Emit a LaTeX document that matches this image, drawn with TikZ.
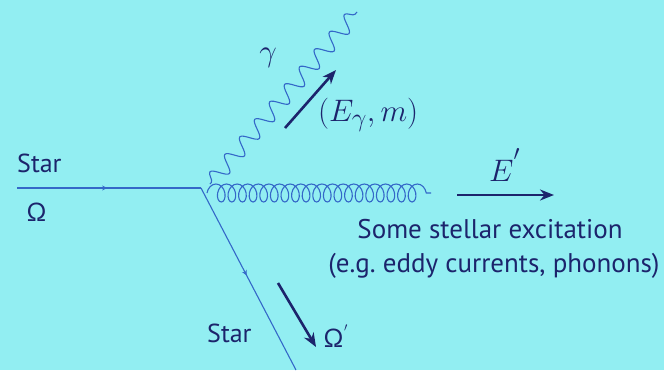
\documentclass[tikz,border=0pt]{standalone}
\usepackage{amsmath,amssymb}
\usepackage{graphicx}
\usepackage{fontspec}
\setsansfont{PT Sans}
\usepackage{tikz}
\usetikzlibrary{arrows.meta,positioning,calc,decorations.pathmorphing,decorations.markings}

\definecolor{slidebg}{RGB}{146,238,242}
\definecolor{lineblue}{RGB}{52,104,200}
\definecolor{inkblue}{RGB}{28,36,108}
\newcommand{\bigmath}[1]{\scalebox{1.25}{\fontsize{24.88}{30}\selectfont$#1$}}
\frenchspacing

\begin{document}
\begin{tikzpicture}[x=1pt,y=-1pt,
  fermion/.style={lineblue,line width=1.1pt,postaction={decorate},
    decoration={markings,mark=at position #1 with {\arrow{Stealth[length=5pt,width=5pt]}}}},
  photon/.style={lineblue,line width=1.1pt,decorate,
    decoration={snake,segment length=23pt,amplitude=8pt,pre length=2pt,post length=0pt}},
  gluon/.style={lineblue,line width=1.1pt,decorate,
    decoration={coil,aspect=0.7,segment length=10.6pt,amplitude=9pt}},
  momentum/.style={inkblue,line width=2.6pt,-{Stealth[length=14pt,width=11pt]}},
  lbl/.style={inkblue,font=\sffamily\fontsize{26}{30}\selectfont,inner sep=0pt},
  exclbl/.style={inkblue,font=\sffamily\fontsize{27}{32}\selectfont,inner sep=0pt},
  mathlbl/.style={inkblue,inner sep=0pt}]
\fill[slidebg] (0,0) rectangle (664,370);
\useasboundingbox (0,0) rectangle (664,370);

% vertex and line ends
\coordinate (v) at (201,188);
\coordinate (in) at (17,188);
\coordinate (out) at (296,370);
\coordinate (gs) at (207,193);
\coordinate (ge) at (431,193);
\coordinate (ps) at (210,184);
\coordinate (pe) at (357,12);

\draw[fermion=0.49] (in) -- (v);
\draw[fermion=0.48] (v) -- (out);
\draw[gluon] (gs) -- (ge);
\draw[photon] (ps) -- (pe);

% momenta
\coordinate (kg1) at (285,128);
\coordinate (kg2) at (336,70);
\draw[momentum] (kg1) -- (kg2);
\coordinate (ke1) at (457,195);
\coordinate (ke2) at (554,195);
\draw[momentum] (ke1) -- (ke2);
\coordinate (ks1) at (278,283);
\coordinate (ks2) at (316,347);
\draw[momentum] (ks1) -- (ks2);

% labels
\node[lbl,anchor=base west] (starin) at (17,172) {Star};
\node[lbl,anchor=base west] (omin) at (26,221) {Ω};
\node[mathlbl] (gam) at (268,58) {\bigmath{\gamma}};
\node[mathlbl,anchor=west] (egm) at (318,115) {\bigmath{(E_\gamma,m)}};
\node[mathlbl] (eprime) at (505,165) {\bigmath{E^{'}}};
\node[exclbl,anchor=base] (exc1) at (490,238) {Some stellar excitation};
\node[exclbl,anchor=base] (exc2) at (494,272) {(e.g. eddy currents, phonons)};
\node[lbl,anchor=base west] (starout) at (207,342) {Star};
\node[lbl,anchor=base west] (omout) at (323,347) {Ω$^{'}$};
\end{tikzpicture}
\end{document}
